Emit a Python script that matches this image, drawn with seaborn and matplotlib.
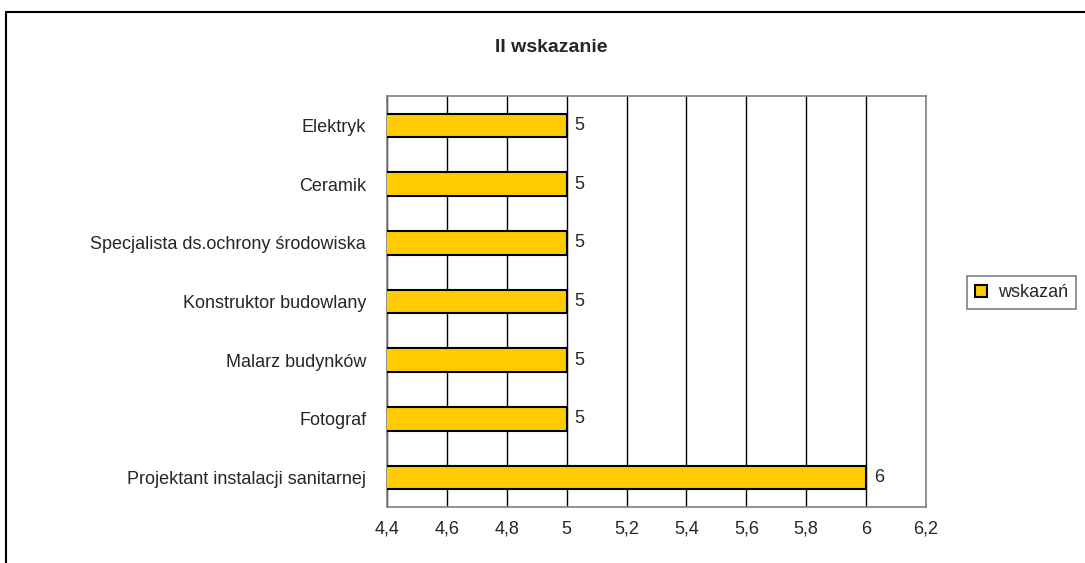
import matplotlib
matplotlib.use('Agg')
import matplotlib.pyplot as plt
import seaborn as sns
import pandas as pd
from matplotlib.patches import Rectangle

sns.set_style("white")
plt.rcParams['font.family'] = ['Liberation Sans', 'DejaVu Sans']

categories = ['Elektryk', 'Ceramik', 'Specjalista ds.ochrony środowiska',
              'Konstruktor budowlany', 'Malarz budynków', 'Fotograf',
              'Projektant instalacji sanitarnej']
values = [5, 5, 5, 5, 5, 5, 6]
xticks = [4.4, 4.6, 4.8, 5.0, 5.2, 5.4, 5.6, 5.8, 6.0, 6.2]
xtick_labels = ['4,4', '4,6', '4,8', '5', '5,2', '5,4', '5,6', '5,8', '6', '6,2']

df = pd.DataFrame({'kategoria': categories, 'wskazań': values})

W, H = 1085, 563
fig = plt.figure(figsize=(W / 100, H / 100), dpi=100)
ax = fig.add_axes([387 / W, 1 - 507 / H, (926 - 387) / W, (507 - 96) / H])

sns.barplot(data=df, x='wskazań', y='kategoria', color='#FFCC00', edgecolor='black',
            linewidth=1.5, width=0.4, saturation=1, ax=ax, label='wskazań', zorder=3)

ax.set_xlim(4.4, 6.2)
ax.set_ylim(len(categories) - 0.5, -0.5)
ax.set_xticks(xticks)
ax.set_xticklabels(xtick_labels, fontsize=13)
ax.set_xlabel('')
ax.set_ylabel('')
ax.tick_params(axis='y', which='major', length=0, pad=15, labelsize=13)
ax.set_yticks([i + 0.5 for i in range(-1, len(categories))], minor=True)
ax.tick_params(axis='y', which='minor', length=5, color='#808080', direction='out')
ax.tick_params(axis='x', length=5, color='#808080', pad=5)
ax.xaxis.grid(True, color='black', linewidth=1, zorder=0)
ax.set_axisbelow(True)
for s in ax.spines.values():
    s.set_color('#808080')
    s.set_linewidth(1.2)

for i, v in enumerate(values):
    ax.text(v + 0.027, i, f'{v}', va='center', ha='left', fontsize=13)

fig.text(551 / W, 1 - 47 / H, 'II wskazanie', fontsize=14, fontweight='bold',
         ha='center', va='center')

leg = ax.legend(loc='upper left', bbox_to_anchor=(967 / W, 1 - 276 / H),
                bbox_transform=fig.transFigure, borderaxespad=0, fontsize=13,
                frameon=True, fancybox=False, edgecolor='#808080', framealpha=1,
                handlelength=0.65, handleheight=0.65, handletextpad=0.6,
                borderpad=0.45)
leg.get_frame().set_linewidth(1.2)

fig.patches.append(Rectangle((6 / W, -0.01), 1.1, 1 - 11.5 / H + 0.01,
                             transform=fig.transFigure, fill=False,
                             edgecolor='black', linewidth=1.5))

plt.savefig('out.png', dpi=100)
plt.close()
